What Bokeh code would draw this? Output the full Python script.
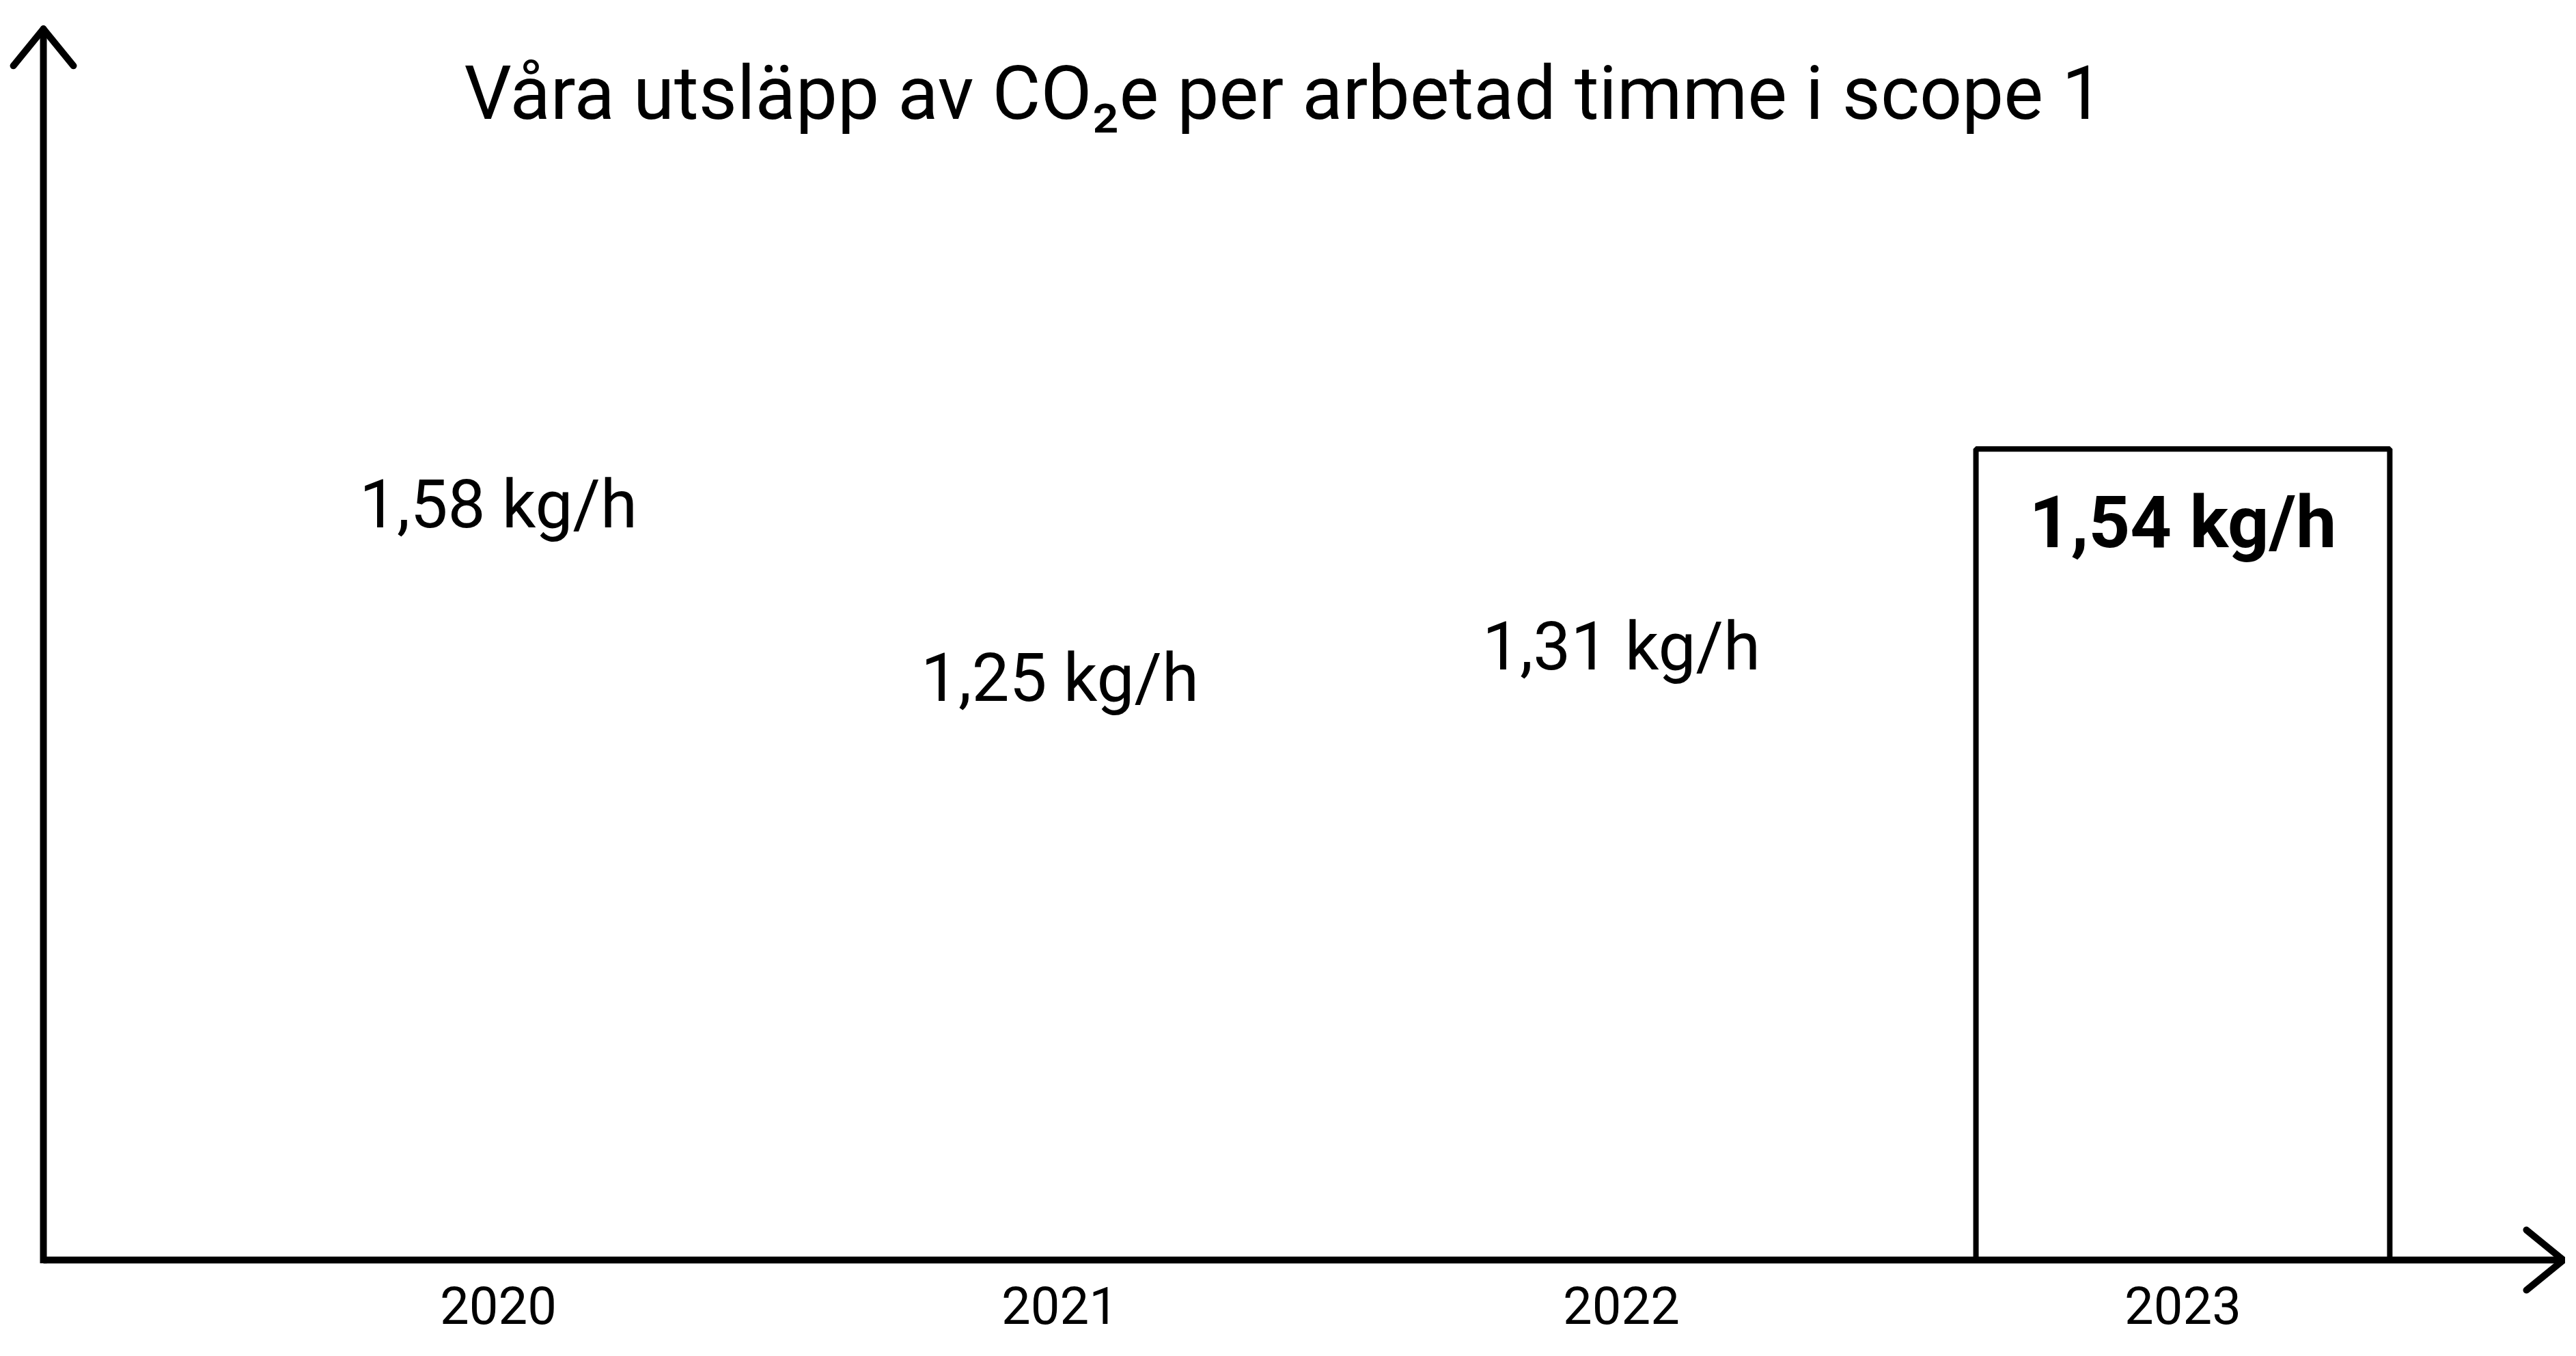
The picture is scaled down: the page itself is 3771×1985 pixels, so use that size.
from bokeh.plotting import figure
from bokeh.models import Range1d
from bokeh.core.properties import value
from bokeh.embed import file_html
from bokeh.resources import INLINE

# ---- data ----
title_text = "Våra utsläpp av CO₂e per arbetad timme i scope 1"
years = ["2020", "2021", "2022", "2023"]
emissions = [1.58, 1.25, 1.31, 1.54]   # kg CO2e per worked hour
unit = "kg/h"
highlight_year = "2023"

xs = list(range(len(years)))
labels = [f"{v:.2f}".replace(".", ",") + " " + unit for v in emissions]
hi = years.index(highlight_year)
rest = [i for i in xs if i != hi]

# ---- figure (frame fills the whole figure) ----
W, H = 3755, 1969
x0, x1 = -0.8869, 3.6813
y0, y1 = -0.1621, 2.3917
px_x = W / (x1 - x0)          # pixels per x unit
px_y = H / (y1 - y0)          # pixels per y unit
p = figure(width=W, height=H, output_backend="svg", toolbar_location=None,
           x_range=Range1d(x0, x1), y_range=Range1d(y0, y1),
           x_axis_location=None, y_axis_location=None, min_border=0)
p.outline_line_color = None
p.grid.visible = False
p.background_fill_color = "white"
p.border_fill_color = "white"

bar_w = 0.737
p.vbar(x=xs, top=emissions, bottom=0, width=bar_w,
       fill_color="white", line_color=None)
p.vbar(x=[xs[hi]], top=[emissions[hi]], bottom=0, width=bar_w,
       fill_color="white", line_color="black", line_width=8)

# value labels
p.text(x=[xs[i] for i in rest], y=[emissions[i] for i in rest],
       text=[labels[i] for i in rest], text_font=value("Roboto"),
       text_font_size="98px", text_align="center", text_baseline="alphabetic",
       y_offset=112, text_color="black")
p.text(x=[xs[hi]], y=[emissions[hi]], text=[labels[hi]],
       text_font=value("Roboto"), text_font_style="bold",
       text_font_size="106px", text_align="center", text_baseline="alphabetic",
       y_offset=108, text_color="black")

# category (year) labels under the axis
p.text(x=xs, y=[0] * len(xs), text=years, text_font=value("Roboto"),
       text_font_size="76px", text_align="center", text_baseline="middle",
       y_offset=66, text_color="black")

# title
p.text(x=[1.399], y=[2.2153], text=[title_text], text_font=value("Roboto"),
       text_font_size="109px", text_align="center", text_baseline="alphabetic",
       text_color="black")

# hand-drawn style axes with open arrow heads
y_axis_x = -0.8102
y_tip = 2.3375
x_tip = 3.6776
head_len, head_half = 54, 44   # pixels
p.line(x=[y_axis_x, y_axis_x], y=[-0.006, y_tip], line_width=10, line_color="black")
p.line(x=[y_axis_x, x_tip], y=[0, 0], line_width=10, line_color="black")
p.segment(
    x0=[y_axis_x - head_half / px_x, y_axis_x + head_half / px_x,
        x_tip - head_len / px_x, x_tip - head_len / px_x],
    y0=[y_tip - head_len / px_y, y_tip - head_len / px_y,
        head_half / px_y, -head_half / px_y],
    x1=[y_axis_x, y_axis_x, x_tip, x_tip],
    y1=[y_tip, y_tip, 0, 0],
    line_width=10, line_color="black", line_cap="round")

open("out.html", "w").write(file_html(p, INLINE))
